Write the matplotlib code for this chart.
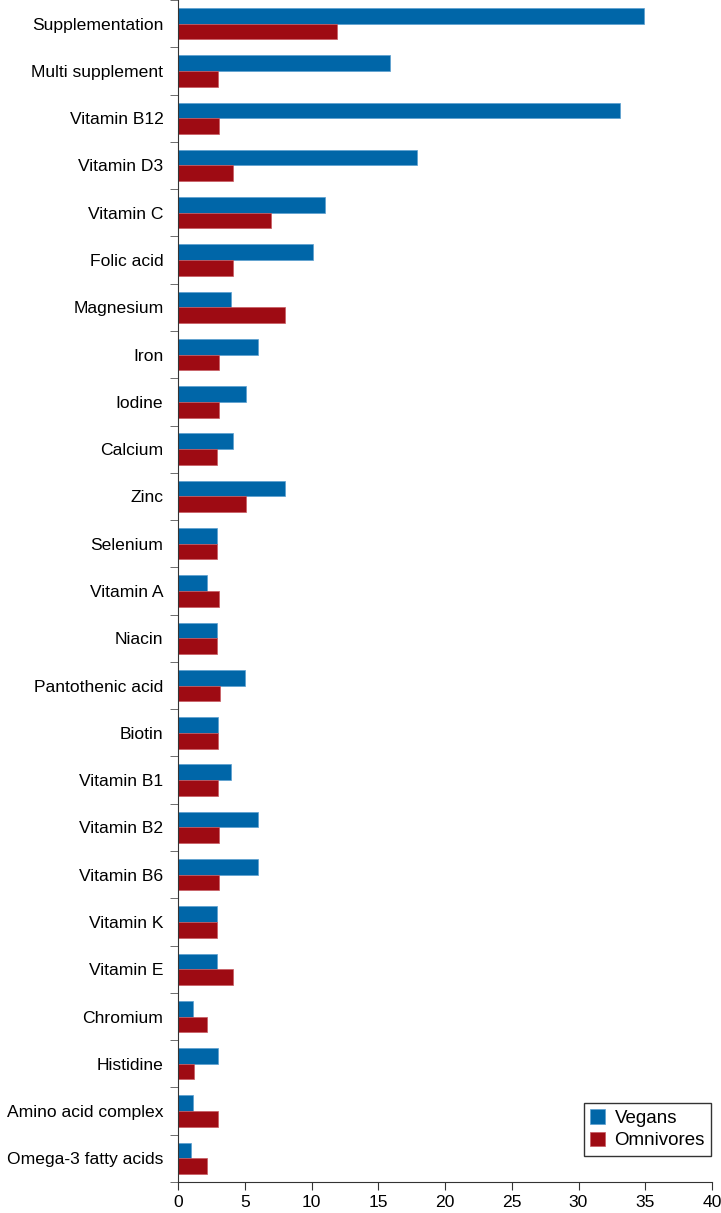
import numpy as np
import matplotlib
matplotlib.use('Agg')
import matplotlib.pyplot as plt
from matplotlib.ticker import FixedLocator

plt.rcParams['font.family'] = ['Liberation Sans', 'DejaVu Sans']

# data
categories = ['Supplementation', 'Multi supplement', 'Vitamin B12', 'Vitamin D3',
              'Vitamin C', 'Folic acid', 'Magnesium', 'Iron', 'Iodine', 'Calcium',
              'Zinc', 'Selenium', 'Vitamin A', 'Niacin', 'Pantothenic acid', 'Biotin',
              'Vitamin B1', 'Vitamin B2', 'Vitamin B6', 'Vitamin K', 'Vitamin E',
              'Chromium', 'Histidine', 'Amino acid complex', 'Omega-3 fatty acids']
vegans = [34.9, 15.9, 33.1, 17.9, 11.0, 10.1, 4.0, 6.0, 5.1, 4.1,
          8.0, 2.95, 2.2, 2.9, 5.0, 3.0, 4.0, 6.0, 6.0, 2.95,
          2.9, 1.1, 3.0, 1.1, 1.0]
omnivores = [11.9, 3.0, 3.05, 4.1, 7.0, 4.1, 8.0, 3.05, 3.1, 2.95,
             5.1, 2.9, 3.05, 2.95, 3.15, 3.0, 3.0, 3.05, 3.05, 2.9,
             4.1, 2.2, 1.2, 3.0, 2.15]

blue = '#0066a8'
red = '#9e0b13'

fig = plt.figure(figsize=(7.21, 12.13), dpi=100)
ax = fig.add_axes([178/721, 31/1213, 534/721, 1182/1213])

y = np.arange(len(categories))
h = 0.332
ax.barh(y - h/2, vegans, height=h, color=blue, edgecolor='#5a9fd0', linewidth=0.5, label='Vegans')
ax.barh(y + h/2, omnivores, height=h, color=red, edgecolor='#c85a60', linewidth=0.5, label='Omnivores')

ax.set_ylim(len(categories) - 0.5, -0.5)
ax.set_xlim(0, 40)
ax.set_xticks(np.arange(0, 41, 5))
ax.set_yticks(y)
ax.set_yticklabels(categories)
ax.yaxis.set_minor_locator(FixedLocator(np.arange(-0.5, len(categories), 1)))
ax.tick_params(axis='y', which='major', length=0, pad=10.5, labelsize=12.6)
ax.tick_params(axis='y', which='minor', length=6, color='#555555')
ax.tick_params(axis='x', length=6, labelsize=12.6, color='#333333')

for s in ['top', 'right']:
    ax.spines[s].set_visible(False)
ax.spines['left'].set_color('#333333')
ax.spines['bottom'].set_color('#333333')

leg = ax.legend(loc='lower right', bbox_to_anchor=(0.999, 0.022), fontsize=13.5,
                frameon=True, fancybox=False, edgecolor='black', borderaxespad=0,
                handlelength=0.8, handleheight=0.8, handletextpad=0.5,
                borderpad=0.35, labelspacing=0.25)
leg.get_frame().set_linewidth(1.0)

fig.savefig('out.png', dpi=100)
